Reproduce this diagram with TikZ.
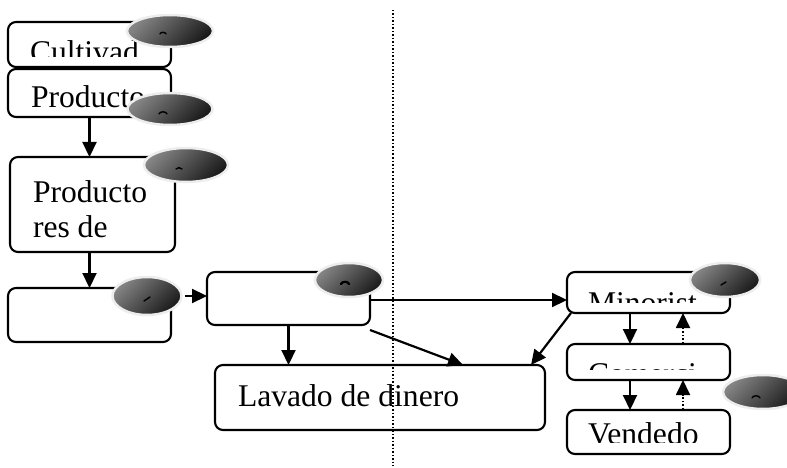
\documentclass[tikz,border=0pt]{standalone}
\usepackage{fontspec}
\setmainfont{Liberation Serif}
\usetikzlibrary{arrows.meta,shapes.geometric}
\tikzset{
  box/.style={draw=black, line width=2.1pt, rounded corners=8pt, fill=white, anchor=north west, inner sep=0pt, outer sep=0pt},
  txt/.style={anchor=base west, inner sep=0pt, outer sep=0pt, font=\fontsize{31.6}{35}\selectfont},
  blob/.style={ellipse, inner sep=0pt, draw=black!7, line width=2.5pt, top color=black!48, bottom color=black!90, shading angle=45},
  arr/.style={line width=2.2pt, -{Triangle[length=15pt,width=14pt]}},
  darr/.style={line width=1.8pt, dotted, -{Triangle[length=15pt,width=14pt]}},
  tick/.style={line width=1.4pt, black, line cap=round}
}
\begin{document}
\begin{tikzpicture}[x=1pt,y=-1pt]
\useasboundingbox (0,0) rectangle (787,468);
% boxes
\node[box, minimum width=163pt, minimum height=45pt] (b1) at (8,22) {};
\node[box, minimum width=163pt, minimum height=48pt] (b2) at (8,69) {};
\node[box, minimum width=165pt, minimum height=95pt] (b3) at (10,157) {};
\node[box, minimum width=163pt, minimum height=54pt] (b4) at (8,288) {};
\node[box, minimum width=163pt, minimum height=53pt] (b5) at (207,272) {};
\node[box, minimum width=330pt, minimum height=65pt] (b6) at (215,365) {};
\node[box, minimum width=163pt, minimum height=41pt] (b7) at (567,272) {};
\node[box, minimum width=163pt, minimum height=36pt] (b8) at (567,344) {};
\node[box, minimum width=163pt, minimum height=44pt] (b9) at (567,410) {};
% texts
\begin{scope}
\clip (8,22) rectangle (171,57);
\node[txt] (t1) at (30,63) {Cultivad};
\end{scope}
\node[txt] (t2) at (31,108) {Producto};
\node[txt] (t3a) at (33,202) {Producto};
\node[txt] (t3b) at (33,237) {res de};
\node[txt] (t6) at (238,406) {Lavado de dinero};
\begin{scope}
\clip (567,272) rectangle (730,302);
\node[txt] (t7) at (588,313) {Minorist};
\end{scope}
\begin{scope}
\clip (567,344) rectangle (730,369);
\node[txt] (t8) at (588,384) {Comerci};
\end{scope}
\begin{scope}
\clip (567,410) rectangle (730,442.5);
\node[txt] (t9) at (588,444) {Vendedo};
\end{scope}
% dotted separator
\coordinate (vt) at (393,10);
\coordinate (vb) at (393,466);
\draw[line width=1.5pt, dotted] (vt) -- (vb);
% ellipses
\node[blob, minimum width=86pt, minimum height=32pt] (e1) at (170,31) {};
\node[blob, minimum width=85pt, minimum height=32pt] (e2) at (170,109) {};
\node[blob, minimum width=84pt, minimum height=34pt] (e3) at (186,165) {};
\node[blob, minimum width=69pt, minimum height=38pt] (e4) at (147,296) {};
\node[blob, minimum width=68pt, minimum height=34pt] (e5) at (349,280) {};
\node[blob, minimum width=70pt, minimum height=34pt] (e6) at (725,280) {};
\node[blob, minimum width=80pt, minimum height=34pt] (e7) at (763,392) {};
% marks
\draw[tick] ([shift={(-10,3)}]e1.center) to[bend left=70] ([shift={(-4,3)}]e1.center);
\draw[tick] ([shift={(-11,5)}]e2.center) to[bend left=70] ([shift={(-3,5)}]e2.center);
\draw[tick] ([shift={(-10,4)}]e3.center) to[bend left=50] ([shift={(-4,4)}]e3.center);
\draw[tick] ([shift={(-3,5)}]e4.center) -- ([shift={(3,1)}]e4.center);
\draw[tick, line width=2.2pt] ([shift={(-8,4)}]e5.center) to[bend left=70] ([shift={(0,4)}]e5.center);
\draw[tick] ([shift={(-4,5)}]e6.center) -- ([shift={(1,2)}]e6.center);
\draw[tick] ([shift={(-11,6)}]e7.center) to[bend left=70] ([shift={(-3,6)}]e7.center);
% arrows
\draw[arr] (b2.south) -- (b2.south |- b3.north);
\draw[arr] (b3.south -| b4.north) -- (b4.north);
\draw[arr] ([xshift=2pt]e4.east) -- (e4.east -| b5.west);
\draw[arr] (b5.south) -- (b5.south |- b6.north);
\draw[arr] ([yshift=-5pt]b5.south east) -- ([xshift=-82pt]b6.north east);
\draw[arr] ([yshift=-1.5pt]b5.east) -- ([yshift=-1.5pt]b5.east -| b7.west);
\draw[arr] ([xshift=4pt]b7.south west) -- ([xshift=-14pt]b6.north east);
\draw[arr] ([xshift=-18.5pt]b7.south) -- ([xshift=-18.5pt]b8.north);
\draw[darr] ([xshift=34.5pt]b8.north) -- ([xshift=34.5pt]b7.south);
\draw[arr] ([xshift=-18.5pt]b8.south) -- ([xshift=-18.5pt]b9.north);
\draw[darr] ([xshift=34.5pt]b9.north) -- ([xshift=34.5pt]b8.south);
\end{tikzpicture}
\end{document}
